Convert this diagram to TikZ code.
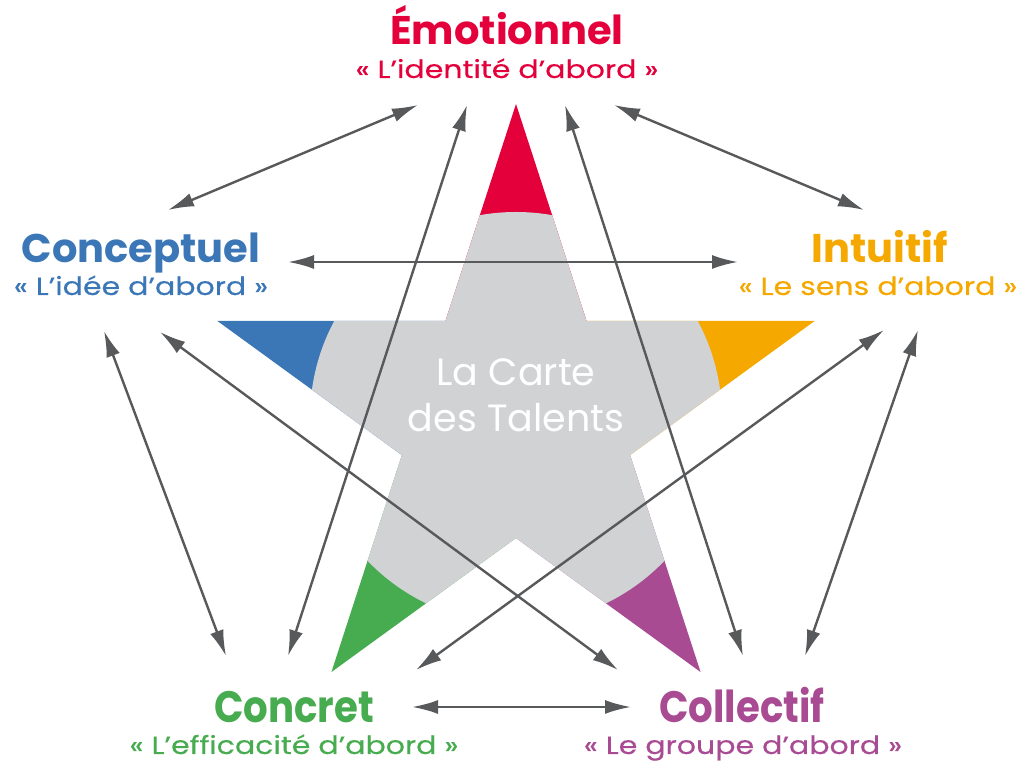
\documentclass[tikz,border=0pt]{standalone}
\usepackage{fontspec}
\setmainfont{Poppins}
\newfontfamily\narrowfont{Poppins}[FakeStretch=0.88]
\newfontfamily\mottofont{Poppins}[FakeStretch=1.2,FakeBold=0.4]
\usetikzlibrary{arrows.meta}

\definecolor{emored}{HTML}{E3003B}
\definecolor{conblue}{HTML}{3B77B6}
\definecolor{intorange}{HTML}{F4A800}
\definecolor{congreen}{HTML}{47AB4F}
\definecolor{colpurple}{HTML}{A84B93}
\definecolor{talentgray}{HTML}{D1D2D4}
\definecolor{linkgray}{HTML}{58595B}

\begin{document}
\begin{tikzpicture}[x=0.5pt,y=-0.5pt,
  title/.style={font=\bfseries\fontsize{20}{20}\selectfont,anchor=base,inner sep=0pt,text depth=0pt},
  narrowtitle/.style={title,font=\narrowfont\bfseries\fontsize{22}{22}\selectfont},
  motto/.style={font=\mottofont\fontsize{12.5}{12.5}\selectfont,anchor=base,inner sep=0pt,text height=7.5pt},
  link/.style={{Latex[length=13pt,width=7pt]}-{Latex[length=13pt,width=7pt]},line width=1.2pt,linkgray}]

\useasboundingbox (0,0) rectangle (1024,763);

% star: coloured tips, grey disc in the middle
\begin{scope}[shift={(516,418)}]
  \clip (-90:314) \foreach \k in {0,...,4}{ -- ({-90+72*\k}:314) -- ({-54+72*\k}:120)} -- cycle;
  \foreach \k/\c in {0/emored,1/intorange,2/colpurple,3/congreen,4/conblue}
    \fill[\c] (0,0) -- ({-126+72*\k}:400) -- ({-54+72*\k}:400) -- cycle;
  \fill[talentgray] (0,0) circle (206);
\end{scope}
\node[white,align=center,font=\fontsize{19}{23}\selectfont] (carte) at (516,395) {La Carte\\des Talents};

% the five profiles
\node[title,emored] (emo) at (507,45) {Émotionnel};
\node[motto,emored] (emo-m) at (507,78) {« L’identité d’abord »};
\node[title,conblue] (cpt) at (141,263) {Conceptuel};
\node[motto,conblue] (cpt-m) at (141,295) {« L’idée d’abord »};
\node[title,intorange] (int) at (880,263) {Intuitif};
\node[motto,intorange] (int-m) at (878,295) {« Le sens d’abord »};
\node[narrowtitle,congreen] (cnc) at (294,723) {Concret};
\node[motto,congreen] (cnc-m) at (294,754) {« L’efficacité d’abord »};
\node[narrowtitle,colpurple] (col) at (742,723) {Collectif};
\node[motto,colpurple] (col-m) at (743,754) {« Le groupe d’abord »};

% arrow ends
\coordinate (emo-a) at (418,105);
\coordinate (emo-b) at (467,105);
\coordinate (emo-c) at (565,105);
\coordinate (emo-d) at (614,105);
\coordinate (cpt-a) at (168,210);
\coordinate (cpt-b) at (288,262);
\coordinate (cpt-c) at (104,331);
\coordinate (cpt-d) at (160,332);
\coordinate (int-a) at (864,210);
\coordinate (int-b) at (738,262);
\coordinate (int-c) at (884,330);
\coordinate (int-d) at (918,330);
\coordinate (cnc-a) at (226,656);
\coordinate (cnc-b) at (288,656);
\coordinate (cnc-c) at (416,670);
\coordinate (cnc-d) at (412,707);
\coordinate (col-a) at (618,670);
\coordinate (col-b) at (743,656);
\coordinate (col-c) at (805,656);
\coordinate (col-d) at (631,707);

\draw[link] (emo-a) -- (cpt-a);
\draw[link] (emo-d) -- (int-a);
\draw[link] (cpt-b) -- (int-b);
\draw[link] (emo-b) -- (cnc-b);
\draw[link] (emo-c) -- (col-b);
\draw[link] (cpt-c) -- (cnc-a);
\draw[link] (int-d) -- (col-c);
\draw[link] (cpt-d) -- (col-a);
\draw[link] (int-c) -- (cnc-c);
\draw[link] (cnc-d) -- (col-d);

\end{tikzpicture}
\end{document}
